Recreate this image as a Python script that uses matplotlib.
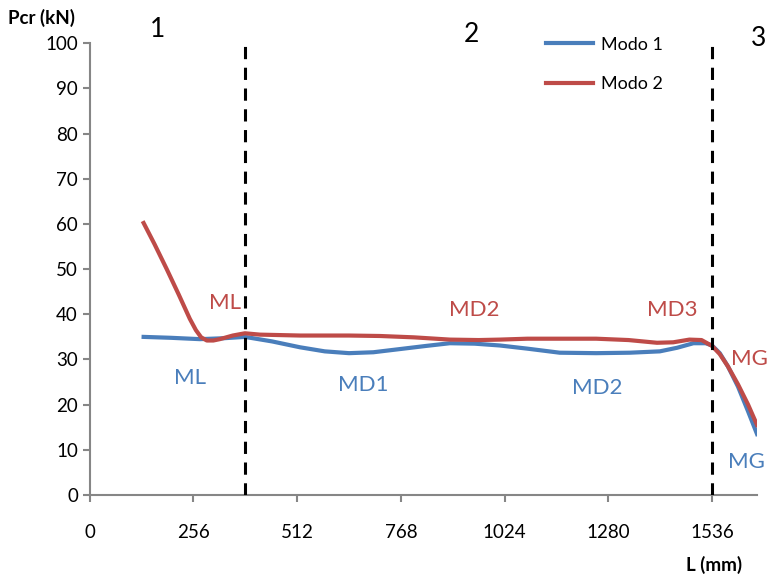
import matplotlib
matplotlib.use('Agg')
import matplotlib.pyplot as plt
import numpy as np

plt.rcParams['font.family'] = ['Lato', 'DejaVu Sans']

# critical load vs length
l_modo1 = [133, 200, 272, 330, 383, 450, 519, 580, 640, 700, 765, 830, 889, 950,
           1012, 1080, 1160, 1250, 1333, 1407, 1450, 1490, 1520, 1536, 1555, 1575, 1600, 1625, 1647]
p_modo1 = [35.0, 34.8, 34.5, 34.7, 35.0, 34.0, 32.7, 31.8, 31.4, 31.6, 32.3, 33.0, 33.6, 33.5,
           33.1, 32.4, 31.5, 31.4, 31.5, 31.8, 32.6, 33.6, 33.6, 33.1, 31.4, 28.5, 24.0, 18.5, 13.5]

l_modo2 = [133, 160, 190, 220, 247, 262, 275, 289, 305, 321, 353, 383, 420, 520, 640, 716, 800, 889, 960,
           1012, 1080, 1160, 1250, 1330, 1400, 1440, 1480, 1510, 1536, 1555, 1575, 1600, 1625, 1647]
p_modo2 = [60.2, 55.5, 50.0, 44.3, 39.0, 36.5, 34.9, 34.2, 34.2, 34.5, 35.3, 35.8, 35.5, 35.3, 35.3, 35.2, 34.9, 34.4, 34.3,
           34.4, 34.6, 34.6, 34.6, 34.3, 33.7, 33.8, 34.4, 34.3, 33.0, 31.2, 28.5, 24.5, 20.0, 15.5]

limites = [384, 1536]
zonas = ['1', '2', '3']
zonas_x = [168, 943, 1650]
zonas_y = [103, 102, 101]

rotulos_m1 = ['ML', 'MD1', 'MD2', 'MG']
rotulos_m1_x = [247, 674, 1252, 1620]
rotulos_m1_y = [26, 24.3, 23.7, 7.3]
rotulos_m2 = ['ML', 'MD2', 'MD3', 'MG']
rotulos_m2_x = [333, 950, 1437, 1628]
rotulos_m2_y = [42.5, 41, 41, 30]

azul = '#4A7EBB'
vermelho = '#BE4B48'

fig = plt.figure(figsize=(7.67, 5.75), dpi=100)
ax = fig.add_axes([0.117, 0.139, 0.870, 0.786])

ax.plot(l_modo1, p_modo1, color=azul, lw=3, solid_joinstyle='round', label='Modo 1', zorder=3)
ax.plot(l_modo2, p_modo2, color=vermelho, lw=3, solid_joinstyle='round', label='Modo 2', zorder=4)

for xl in limites:
    ax.axvline(xl, ymin=0, ymax=1, color='black', lw=2.2, ls=(0, (4, 2.8)), zorder=5)

for t, x, y in zip(zonas, zonas_x, zonas_y):
    ax.text(x, y, t, fontsize=19, ha='center', va='center', clip_on=False)
for t, x, y in zip(rotulos_m1, rotulos_m1_x, rotulos_m1_y):
    ax.text(x, y, t, fontsize=16, color=azul, ha='center', va='center', clip_on=False)
for t, x, y in zip(rotulos_m2, rotulos_m2_x, rotulos_m2_y):
    ax.text(x, y, t, fontsize=16, color=vermelho, ha='center', va='center', clip_on=False)

ax.set_xlim(0, 1647)
ax.set_ylim(0, 100)
ax.set_xticks(np.arange(0, 1537, 256))
ax.set_yticks(np.arange(0, 101, 10))

for s in ['top', 'right']:
    ax.spines[s].set_visible(False)
for s in ['left', 'bottom']:
    ax.spines[s].set_color('#868686')
    ax.spines[s].set_linewidth(1.5)
ax.tick_params(axis='both', colors='#868686', labelcolor='black', labelsize=13.5, width=1.5, length=5)
ax.tick_params(axis='x', pad=16)

fig.text(0.010, 0.968, 'Pcr (kN)', fontsize=13.5, fontweight='bold', ha='left', va='center')
fig.text(0.968, 0.018, 'L (mm)', fontsize=13.5, fontweight='bold', ha='right', va='center')

ax.legend(loc='upper left', bbox_to_anchor=(0.66, 1.05), frameon=False, fontsize=13,
          handlelength=2.6, labelspacing=1.3, handletextpad=0.4)

fig.savefig('out.png', dpi=100)
